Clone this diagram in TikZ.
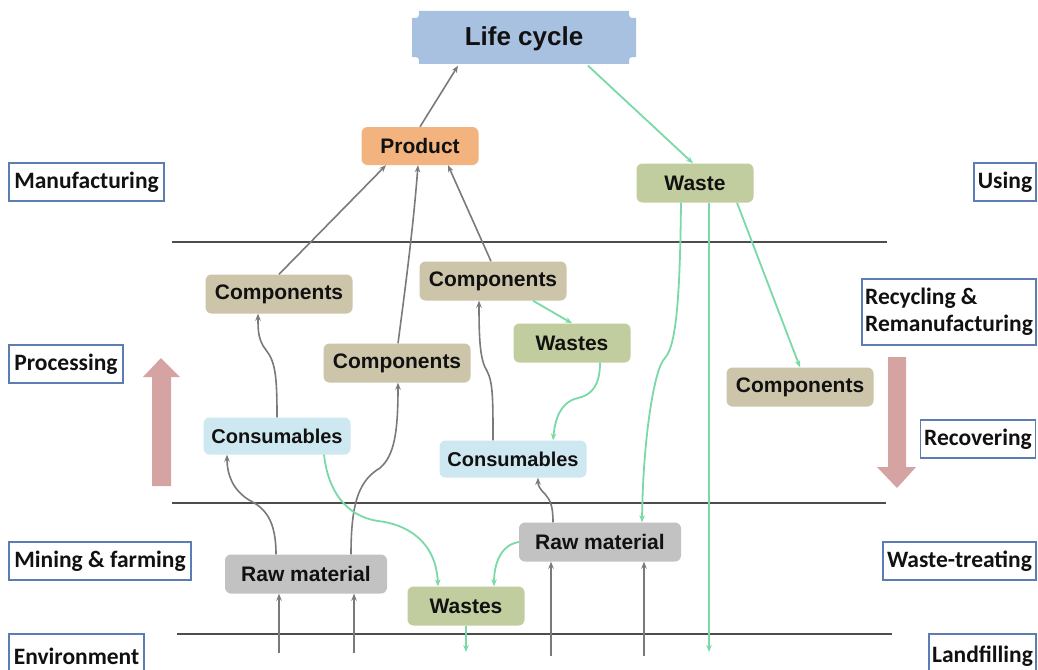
\documentclass[tikz,border=0pt]{standalone}
\usepackage{fontspec}
\setmainfont{Liberation Sans}
\newfontfamily\calib{Carlito}
\usetikzlibrary{arrows.meta}
\definecolor{lifec}{HTML}{A9C1E0}
\definecolor{prodc}{HTML}{F2B37E}
\definecolor{wastec}{HTML}{C1CD9E}
\definecolor{compc}{HTML}{CCC5AA}
\definecolor{consc}{HTML}{CDE8F0}
\definecolor{rawc}{HTML}{C2C2C2}
\definecolor{greenl}{HTML}{7ADAA5}
\definecolor{grayl}{HTML}{7A7A7A}
\definecolor{hline}{HTML}{4D4D4D}
\definecolor{sideb}{HTML}{5B7DB1}
\definecolor{pinkc}{HTML}{D6A3A3}
\definecolor{txt}{HTML}{111111}
\begin{document}
\begin{tikzpicture}[x=1pt,y=-1pt,
  box/.style={rounded corners=6pt, inner sep=0pt, text=txt, font=\fontsize{21}{25}\selectfont\bfseries},
  compbox/.style={box, fill=compc, minimum width=147pt, minimum height=39pt},
  wastebox/.style={box, fill=wastec, minimum width=117pt, minimum height=39pt},
  consbox/.style={box, fill=consc, minimum width=147pt, minimum height=37pt, font=\fontsize{20}{24}\selectfont\bfseries},
  rawbox/.style={box, fill=rawc, minimum width=162pt, minimum height=39pt},
  prodbox/.style={box, fill=prodc, minimum width=117pt, minimum height=38pt},
  side/.style={draw=sideb, line width=1.3pt, fill=white, inner sep=0pt, text=txt, font=\calib\fontsize{23.5}{27}\selectfont\bfseries},
  gl/.style={draw=grayl, line width=1.6pt, -{Stealth[length=7pt,width=5.5pt]}},
  gn/.style={draw=greenl, line width=1.8pt, -{Stealth[length=7pt,width=5.5pt]}},
  hl/.style={draw=hline, line width=2.8pt},
  pink/.style={fill=pinkc}
]
\clip (0,0) rectangle (1038,669);
\fill[white] (0,0) rectangle (1038,669);

% horizontal separators
\draw[hl] (172,242) -- (887,242);
\draw[hl] (172,503) -- (886,503);
\draw[hl] (177,634) -- (892,634);

% pink arrows
\fill[pink] (152,486) -- (152,377) -- (143,377) -- (161,358) -- (180,377) -- (171,377) -- (171,486) -- cycle;
\fill[pink] (888,357) -- (906,357) -- (906,467) -- (916,467) -- (897,488) -- (877,467) -- (888,467) -- cycle;

% life cycle shape
\fill[lifec] (419,11) -- (629,11) .. controls (629,18) .. (636,18) -- (636,57) .. controls (629,57) .. (629,64) -- (419,64) .. controls (419,57) .. (412,57) -- (412,18) .. controls (419,18) .. (419,11) -- cycle;
\node[inner sep=0pt, minimum width=224pt, minimum height=53pt, text=txt, font=\fontsize{26}{30}\selectfont\bfseries] (life) at (524,39) {Life cycle};

% nodes
\node[prodbox] (prod) at (420,146) {Product};
\node[wastebox] (waste) at (695,183) {Waste};
\node[compbox] (comp1) at (279,294) {Components};
\node[compbox] (comp2) at (493,281) {Components};
\node[compbox] (comp3) at (397,363) {Components};
\node[compbox] (comp4) at (800,387) {Components};
\node[wastebox] (wastesM) at (572,343) {Wastes};
\node[consbox] (cons1) at (277,436) {Consumables};
\node[consbox] (cons2) at (513,459) {Consumables};
\node[rawbox] (raw1) at (306,574) {Raw material};
\node[rawbox] (raw2) at (600,542) {Raw material};
\node[wastebox] (wastesB) at (466,606) {Wastes};

% side labels
\node[side, minimum width=155pt, minimum height=38pt] (manu) at (86.5,182) {Manufacturing};
\node[side, minimum width=114pt, minimum height=38pt] (proc) at (66,364) {Processing};
\node[side, minimum width=182pt, minimum height=38pt] (mine) at (100,561) {Mining \& farming};
\node[side, minimum width=135pt, minimum height=44pt] (env) at (76.5,656) {Environment};
\node[side, minimum width=62pt, minimum height=38pt] (using) at (1005,182) {Using};
\node[side, minimum width=174pt, minimum height=66pt, align=left] (recy) at (949,312) {Recycling \&\\Remanufacturing};
\node[side, minimum width=115pt, minimum height=38pt] (reco) at (978,439) {Recovering};
\node[side, minimum width=153pt, minimum height=38pt] (wtreat) at (959.5,561) {Waste-treating};
\node[side, minimum width=107pt, minimum height=44pt] (landf) at (982.5,656) {Landfilling};

% free ends
\coordinate (e1) at (279,653);
\coordinate (e2) at (354,653);
\coordinate (e3) at (551,656);
\coordinate (e4) at (644,656);
\coordinate (lf) at (709,652);
\coordinate (wb) at (466,652);

% gray connectors
\draw[gl] (prod.north) -- ([xshift=-66pt]life.south);
\draw[gl] (comp1.north) -- ([xshift=-34pt]prod.south);
\draw[gl] ([xshift=1pt]comp3.north) .. controls (405,290) and (413,230) .. ([xshift=-2pt]prod.south);
\draw[gl] ([xshift=-2pt]comp2.north) -- ([xshift=28pt]prod.south);
\draw[gl] (cons1.north) .. controls (277,380) and (276,362) .. (266,350) .. controls (258,340) and (258,330) .. ([xshift=-21pt]comp1.south);
\draw[gl] ([xshift=-20pt]cons2.north) .. controls (493,400) and (493,382) .. (487,371) .. controls (480,360) and (479,340) .. ([xshift=-14pt]comp2.south);
\draw[gl] ([xshift=-30pt]raw1.north) .. controls (276,520) and (265,508) .. (249,500) .. controls (233,490) and (227,475) .. ([xshift=-50pt]cons1.south);
\draw[gl] ([xshift=45pt]raw1.north) .. controls (351,500) and (360,480) .. (380,468) .. controls (395,455) and (398,430) .. ([xshift=1pt]comp3.south);
\draw[gl] ([xshift=-47pt]raw2.north) .. controls (553,505) and (550,500) .. (545,494) .. controls (539,488) and (538,485) .. ([xshift=25pt]cons2.south);
\draw[gl] (e1) -- ([xshift=-27pt]raw1.south);
\draw[gl] (e2) -- ([xshift=48pt]raw1.south);
\draw[gl] (e3) -- ([xshift=-49pt]raw2.south);
\draw[gl] (e4) -- ([xshift=44pt]raw2.south);

% green connectors
\draw[gn] ([xshift=64pt]life.south) -- ([xshift=-2pt]waste.north);
\draw[gn] ([xshift=-14pt]waste.south) .. controls (680,290) and (677,345) .. (665,358) .. controls (654,368) and (643,440) .. ([xshift=42pt]raw2.north);
\draw[gn] ([xshift=14pt]waste.south) -- (lf);
\draw[gn] ([xshift=42pt]waste.south) -- (comp4.north);
\draw[gn] ([xshift=40pt]comp2.south) -- (wastesM.north);
\draw[gn] ([xshift=28pt]wastesM.south) .. controls (600,385) and (592,395) .. (578,398) .. controls (560,402) and (555,420) .. ([xshift=40pt]cons2.north);
\draw[gn] ([xshift=47pt]cons1.south) .. controls (328,490) and (345,516) .. (378,521) .. controls (405,524) and (436,540) .. ([xshift=-28pt]wastesB.north);
\draw[gn] (raw2.west) .. controls (500,545) and (494,565) .. ([xshift=28pt]wastesB.north);
\draw[gn] (wastesB.south) -- (wb);
\end{tikzpicture}
\end{document}
